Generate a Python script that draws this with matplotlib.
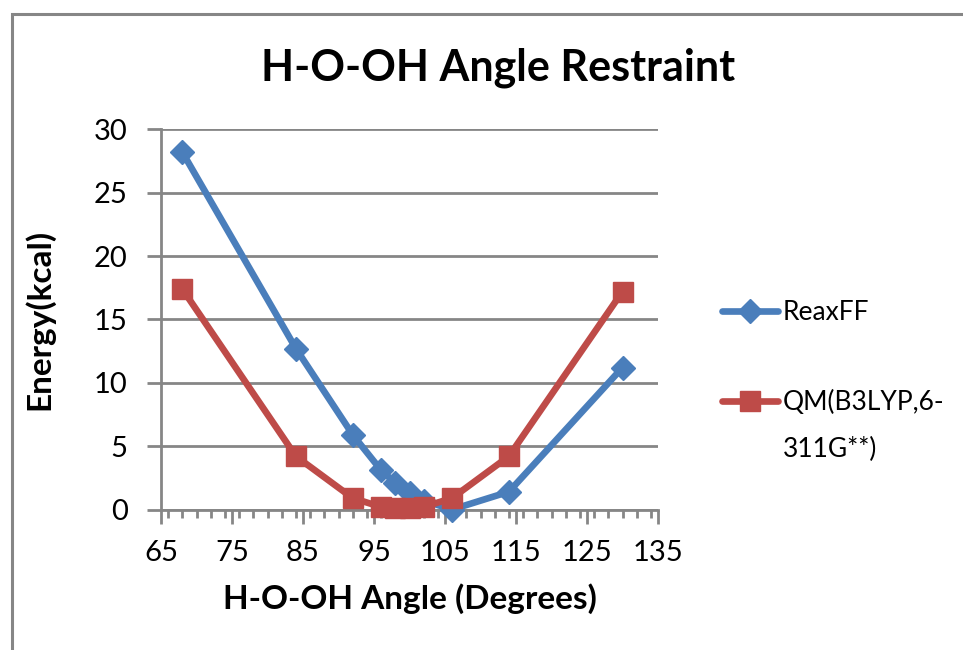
import matplotlib.pyplot as plt
from matplotlib.patches import Rectangle
from matplotlib.ticker import MultipleLocator

# angle (degrees) and energies (kcal)
angle = [68, 84, 92, 96, 98, 100, 102, 106, 114, 130]
reaxff = [28.2, 12.7, 5.9, 3.1, 2.1, 1.3, 0.7, 0.0, 1.4, 11.2]
qm = [17.4, 4.2, 0.9, 0.2, 0.1, 0.1, 0.2, 0.9, 4.2, 17.2]

xticks = list(range(65, 136, 10))
labels = ["ReaxFF", "QM(B3LYP,6-"]
label_cont = "311G**)"

plt.rcParams['font.family'] = ['Lato', 'DejaVu Sans']

blue = "#4a7ebb"
red = "#be4b48"
grey = "#868686"

fig = plt.figure(figsize=(9.63, 6.5), dpi=100)
ax = fig.add_axes([161/963, 1-509.5/650, (658-161)/963, (509.5-129.3)/650])

# outer chart border (cropped on right/bottom)
fig.patches.append(Rectangle((12/963, -0.1), 1.2, 1-14/650+0.1, transform=fig.transFigure,
                             fill=False, edgecolor=grey, linewidth=2.2))

ax.plot(angle, reaxff, color=blue, lw=4.8, marker="D", ms=12, label=labels[0],
        solid_joinstyle="round", solid_capstyle="round", clip_on=False, zorder=3)
ax.plot(angle, qm, color=red, lw=4.8, marker="s", ms=14, label=labels[1],
        solid_joinstyle="round", solid_capstyle="round", clip_on=False, zorder=3)

ax.set_xlim(65, 135)
ax.set_ylim(0, 30)
ax.set_xticks(xticks)
ax.xaxis.set_minor_locator(MultipleLocator(2))
ax.yaxis.set_major_locator(MultipleLocator(5))
ax.grid(axis="y", color=grey, lw=2)
ax.set_axisbelow(True)

for s in ["top", "right"]:
    ax.spines[s].set_visible(False)
for s in ["left", "bottom"]:
    ax.spines[s].set_color(grey)
    ax.spines[s].set_linewidth(2)

ax.tick_params(which="major", direction="out", length=10, width=2, color=grey, labelsize=21)
ax.tick_params(axis="x", which="major", pad=12)
ax.tick_params(axis="y", which="major", pad=14)
ax.tick_params(axis="x", which="minor", direction="out", length=6, width=2, color=grey)
ax.tick_params(axis="y", which="minor", left=False)

fig.text(498/963, 1-80/650, "H-O-OH Angle Restraint", fontsize=31, fontweight="bold",
         ha="center", va="baseline")
ax.set_xlabel("H-O-OH Angle (Degrees)", fontsize=24, fontweight="bold", va="top")
ax.xaxis.set_label_coords(0.5, -0.195)
ax.set_ylabel("Energy(kcal)", fontsize=24, fontweight="bold")
ax.yaxis.set_label_coords(-0.215, 0.5)

leg = ax.legend(loc="upper left", bbox_to_anchor=(1.129, 0.551), frameon=False, fontsize=19,
                handlelength=2.1, handletextpad=0.2, labelspacing=2.45, borderpad=0,
                borderaxespad=0)

# second line of the QM label, set under the first one
fig.canvas.draw()
t = leg.get_texts()[1]
bb = t.get_window_extent()
fig.text(bb.x0 / fig.bbox.width, (bb.y0 - 47) / fig.bbox.height, label_cont,
         fontsize=19, ha="left", va="bottom")

fig.savefig("out.png", dpi=100)
